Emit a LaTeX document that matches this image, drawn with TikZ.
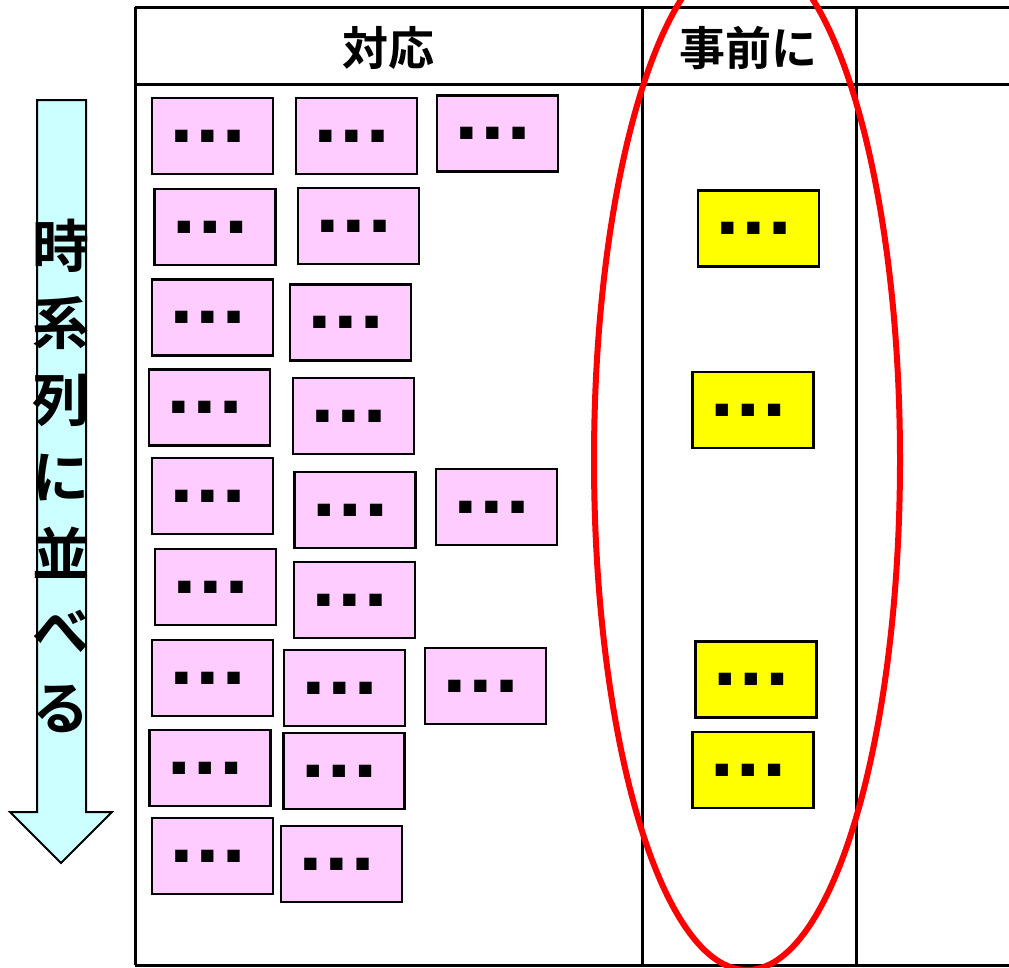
\documentclass[tikz,border=0pt]{standalone}
\usepackage{fontspec}
\newfontfamily\jpfont{Noto Sans CJK JP}[BoldFont={Noto Sans CJK JP Bold}]
\newfontfamily\symfont{DejaVu Sans}
\definecolor{cardpink}{HTML}{FFCCFF}
\definecolor{cardyellow}{HTML}{FFFF00}
\definecolor{arrowcyan}{HTML}{CCFFFF}
\newcommand{\tridots}{{\symfont\fontsize{16}{16}\selectfont ■\kern11pt■\kern11pt■\kern10pt}}

\begin{document}
\begin{tikzpicture}[x=1pt, y=-1pt,
tableline/.style={draw=black, line width=3pt},
pinkcard/.style={rectangle, draw=black, fill=cardpink, line width=2.2pt, minimum width=121pt, minimum height=76pt, inner sep=0pt},
yellowcard/.style={pinkcard, fill=cardyellow},
headtext/.style={font=\jpfont\bfseries\fontsize{46}{46}\selectfont, inner sep=0pt}
]
    \useasboundingbox (0,0) rectangle (1009,967);
    \clip (0,0) rectangle (1009,967);

    % time arrow
    \draw[fill=arrowcyan, line width=2pt] (37,100) -- (86,100) -- (86,812) -- (112,812)
        -- (61,863) -- (10,812) -- (37,812) -- cycle;
    \node [font=\jpfont\bfseries\fontsize{57}{77}\selectfont, align=center, inner sep=0pt] (timeline) at (61,476)
        {時\\系\\列\\に\\並\\べ\\る};

    % table
    \draw[tableline] (135,7) -- (1009,7);
    \draw[tableline] (135,84) -- (1009,84);
    \draw[tableline] (135,965) -- (1009,965);
    \draw[tableline] (135,7) -- (135,965);
    \draw[tableline] (642,7) -- (642,965);
    \draw[tableline] (856,7) -- (856,965);

    \node [headtext] (h1) at (388,48) {対応};
    \node [headtext] (h2) at (748,48) {事前に};

    % response cards
    \node [pinkcard] (p1) at (212.5,136) {\tridots};
    \node [pinkcard] (p2) at (356.5,136) {\tridots};
    \node [pinkcard] (p3) at (497.5,133.5) {\tridots};

    \node [pinkcard] (p4) at (215,227) {\tridots};
    \node [pinkcard] (p5) at (358.5,226) {\tridots};

    \node [pinkcard] (p6) at (212.5,317.5) {\tridots};
    \node [pinkcard] (p7) at (350.5,322.5) {\tridots};

    \node [pinkcard] (p8) at (209.5,407.5) {\tridots};
    \node [pinkcard] (p9) at (353.5,416) {\tridots};

    \node [pinkcard] (p10) at (212.5,496) {\tridots};
    \node [pinkcard] (p11) at (355,510) {\tridots};
    \node [pinkcard] (p12) at (496.5,507) {\tridots};

    \node [pinkcard] (p13) at (215.5,587) {\tridots};
    \node [pinkcard] (p14) at (354.5,600) {\tridots};

    \node [pinkcard] (p15) at (212.5,678) {\tridots};
    \node [pinkcard] (p16) at (344.5,688) {\tridots};
    \node [pinkcard] (p17) at (485.5,686) {\tridots};

    \node [pinkcard] (p18) at (210,768) {\tridots};
    \node [pinkcard] (p19) at (344,771) {\tridots};

    \node [pinkcard] (p20) at (212.5,856) {\tridots};
    \node [pinkcard] (p21) at (341.5,864) {\tridots};

    % advance cards
    \node [yellowcard] (y1) at (758.5,228.5) {\tridots};
    \node [yellowcard] (y2) at (753,410) {\tridots};
    \node [yellowcard] (y3) at (756,679.5) {\tridots};
    \node [yellowcard] (y4) at (753,770) {\tridots};

    % highlight
    \draw[red, line width=6pt] (747,460) ellipse [x radius=153, y radius=510];
\end{tikzpicture}
\end{document}
